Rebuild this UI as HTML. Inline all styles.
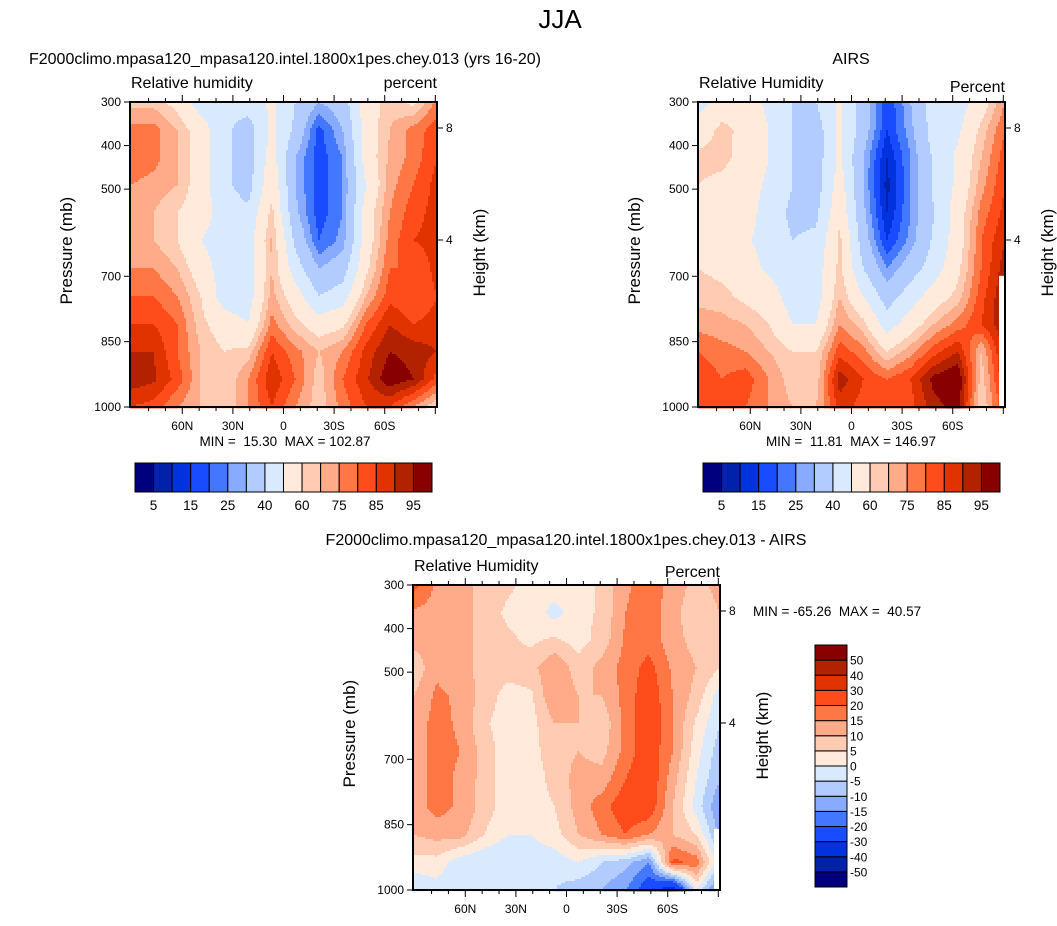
<!DOCTYPE html>
<html><head><meta charset="utf-8">
<style>
body{margin:0;background:#fff;width:1057px;height:921px;overflow:hidden;font-family:"Liberation Sans",Arial,sans-serif;}
svg text{font-family:"Liberation Sans",Arial,sans-serif;fill:#000;}
</style></head>
<body>
<svg id="fig" width="1057" height="921" viewBox="0 0 1057 921" xmlns="http://www.w3.org/2000/svg">
<text x="560" y="28" font-size="26" text-anchor="middle">JJA</text>
</svg>
<script>
// ---- data ----
const latTicks = [60, 30, 0, -30, -60];
const latTickLabels = ["60N", "30N", "0", "30S", "60S"];
const presTicks = [300, 400, 500, 700, 850, 1000];
const heightTicks = [8, 4];
const rhLevels = [5,10,15,20,25,30,40,50,60,65,70,75,80,85,90,95];
const rhLabels = ["5","15","25","40","60","75","85","95"];
const diffLevels = [-50,-40,-30,-20,-15,-10,-5,0,5,10,15,20,30,40,50];
const colors = ["#00007f","#0022aa","#0033dd","#1a4cff","#4477ff","#88aaff","#b3ccff","#d9eaff","#ffeadb","#ffcbb3","#ffaa88","#ff7744","#ff4c1a","#e03300","#b32200","#880000"];
// grids: rows = pressure from 300 (top) to 1000 (bottom); cols = 90N..90S
const modelRH = [
[63,63,57,45,45,45,52,40,30,35,55,63,58,72],
[72,72,65,55,42,35,52,38,18,30,55,65,72,78],
[74,72,65,55,42,35,55,30,17,25,55,66,72,80],
[70,68,65,55,42,36,58,30,17,25,50,68,75,82],
[65,65,60,55,45,42,62,32,17,25,55,70,78,82],
[65,65,60,50,45,45,66,38,20,27,55,72,80,82],
[70,70,65,55,45,45,65,45,30,35,58,75,75,82],
[75,75,70,60,45,45,67,55,40,45,65,78,75,80],
[80,80,75,62,55,50,72,62,55,58,75,85,80,82],
[85,85,75,65,60,62,80,72,65,70,82,90,88,85],
[88,86,78,65,60,70,84,75,62,75,84,94,90,78],
[80,78,70,65,60,70,80,70,62,72,80,80,70,60]];
const airsRH = [
[45,55,55,48,40,40,52,35,15,30,45,45,55,70],
[55,62,58,50,40,35,52,35,15,28,45,48,62,75],
[62,62,57,50,40,35,52,30,10,25,42,52,65,78],
[60,58,55,48,40,35,55,30,8,25,42,52,68,80],
[55,55,55,45,38,38,58,32,10,25,40,55,72,82],
[55,55,52,45,40,42,62,35,15,27,42,55,75,85],
[60,58,55,48,45,45,62,40,25,35,45,58,75,88],
[63,62,58,55,45,45,65,50,35,45,55,62,78,90],
[68,67,65,60,50,50,70,62,45,55,65,72,80,90],
[75,72,70,65,60,60,78,72,60,68,78,85,65,88],
[80,75,78,70,62,62,88,80,75,80,92,96,62,85],
[80,75,75,70,65,65,82,78,75,78,88,92,60,80]];
const diffRH = [
[22,14,12,8,6,3,3,3,6,14,18,13,8,12],
[14,13,12,8,4,3,-2,3,6,15,18,12,6,10],
[12,12,12,8,6,4,6,3,7,16,18,12,8,8],
[6,14,12,8,7,8,15,7,12,17,22,14,10,5],
[10,16,14,8,3,4,15,10,10,17,24,15,8,-3],
[12,17,14,6,2,3,10,10,6,17,25,15,4,-5],
[12,17,15,8,2,3,8,10,8,17,24,15,2,-8],
[12,17,14,8,2,2,7,12,12,20,25,12,0,-10],
[12,17,14,8,2,2,5,12,18,24,24,10,-2,-15],
[10,12,12,5,0,0,3,10,15,20,15,10,5,-12],
[3,3,-3,-5,-5,-3,-3,0,-5,-8,-15,22,18,-5],
[-5,-2,-5,-5,-3,-5,-5,-8,-10,-15,-25,-38,0,-20]];

const NS="http://www.w3.org/2000/svg";
const svg=document.getElementById('fig');
function el(tag,attrs,parent){const e=document.createElementNS(NS,tag);for(const k in attrs)e.setAttribute(k,attrs[k]);(parent||svg).appendChild(e);return e;}
function txt(s,x,y,size,anchor,parent,rot){const t=el('text',{x:x,y:y,'font-size':size,'text-anchor':anchor||'start'},parent);if(rot)t.setAttribute('transform','rotate(-90 '+x+' '+y+')');t.textContent=s;return t;}
function levelIndex(v,levels){let i=0;while(i<levels.length&&v>=levels[i])i++;return Math.min(i,colors.length-1);}

function panel(cfg){
  const g=el('g',{});
  
  
  const X=cfg.x,Y=cfg.y,W=307,H=305;
  const xs=lat=>X+W/2-lat*(W/182);
  const ys=p=>Y+(p-300)/700*H;
  const grid=cfg.grid,nr=grid.length,nc=grid[0].length;
  const field=el('g',{},g);
  
  
  const cs=2;
  for(let py=0;py<H;py+=cs){
    const fy=Math.min((py+cs/2)/H,1)*(nr-1);const r0=Math.min(Math.floor(fy),nr-2);const ty=fy-r0;
    let runStart=0,runCol=-1;
    for(let px=0;px<W;px+=cs){
      const fx=Math.min((px+cs/2)/W,1)*(nc-1);const c0=Math.min(Math.floor(fx),nc-2);const tx=fx-c0;
      const v=(grid[r0][c0]*(1-tx)+grid[r0][c0+1]*tx)*(1-ty)+(grid[r0+1][c0]*(1-tx)+grid[r0+1][c0+1]*tx)*ty;
      const ci=levelIndex(v,cfg.levels);
      if(ci!==runCol){
        if(runCol>=0){el('rect',{x:X+runStart,y:Y+py,width:px-runStart+0.5,height:cs+0.5,fill:colors[runCol]},field);}
        runStart=px;runCol=ci;
      }
    }
    if(runCol>=0){el('rect',{x:X+runStart,y:Y+py,width:W-runStart,height:Math.min(cs+0.5,H-py),fill:colors[runCol]},field);}
  }
  if(cfg.missing){el('rect',{x:X+W-6,y:Y+cfg.missing*H,width:6,height:H-cfg.missing*H,fill:'#fff'},field);}
  const frame=el('rect',{x:X,y:Y,width:W,height:H,fill:'none',stroke:'#000','stroke-width':2},g);
  
  
  for(let lat=80;lat>=-90;lat-=10){
    const x=xs(lat);const major=lat%30===0;
    el('line',{x1:x,y1:Y+H,x2:x,y2:Y+H+(major?7:4),stroke:'#000','stroke-width':1},g);
    el('line',{x1:x,y1:Y,x2:x,y2:Y-(major?7:4),stroke:'#000','stroke-width':1},g);
  }
  latTicks.forEach((lat,i)=>{const t=txt(latTickLabels[i],xs(lat),Y+H+23,12,'middle',g);
    });
  presTicks.forEach(p=>{const y=ys(p);el('line',{x1:X,y1:y,x2:X-6,y2:y,stroke:'#000','stroke-width':1},g);
    const t=txt(String(p),X-9,y+4,12,'end',g);});
  const hy={8:26,4:138};
  heightTicks.forEach(h=>{const y=Y+hy[h];el('line',{x1:X+W,y1:y,x2:X+W+6,y2:y,stroke:'#000','stroke-width':1},g);
    const t=txt(String(h),X+W+9,y+4,12,'start',g);});
  let t=txt('Pressure (mb)',X-58,Y+H/2+50,17,'start',g,true);
  t=txt('Height (km)',X+W+48,Y+H/2+42,17,'start',g,true);
  t=txt(cfg.left,X+1,Y-14,16,'start',g);
  t=txt(cfg.right,X+W,Y-cfg.rdy,16,'end',g);
  t=txt(cfg.title,cfg.tx,cfg.ty,16,'middle',g);
  t=txt(cfg.minmax,cfg.mx,cfg.my,13.5,cfg.manchor,g);
  t.setAttribute('xml:space','preserve');t.style.whiteSpace='pre';
}

panel({name:'model-panel',x:130,y:102,grid:modelRH,levels:rhLevels,left:'Relative humidity',right:'percent',rdy:14,
  title:'F2000climo.mpasa120_mpasa120.intel.1800x1pes.chey.013 (yrs 16-20)',tx:285,ty:64,minmax:'MIN =  15.30  MAX = 102.87',mx:285,my:446,manchor:'middle'});
panel({name:'airs-panel',x:698,y:102,grid:airsRH,levels:rhLevels,left:'Relative Humidity',right:'Percent',rdy:10,missing:0.57,
  title:'AIRS',tx:851,ty:64,minmax:'MIN =  11.81  MAX = 146.97',mx:851,my:446,manchor:'middle'});
panel({name:'difference-panel',x:413,y:585,grid:diffRH,levels:diffLevels,left:'Relative Humidity',right:'Percent',rdy:8,missing:0.8,
  title:'F2000climo.mpasa120_mpasa120.intel.1800x1pes.chey.013 - AIRS',tx:566,ty:545,minmax:'MIN = -65.26  MAX =  40.57',mx:753,my:616,manchor:'start'});

function hbar(x0,name){
  const g=el('g',{});
  const w=297/16;
  colors.forEach((c,i)=>{const r=el('rect',{x:x0+i*w,y:463,width:w,height:29,fill:c,stroke:'#000','stroke-width':1},g);
    });
  rhLabels.forEach((s,i)=>{const t=txt(s,x0+w*(2*i+1),510,13.5,'middle',g);});
}
hbar(135,'model-colorbar');
hbar(703,'airs-colorbar');
(function(){
  const g=el('g',{});
  const h=242/16;
  colors.forEach((c,i)=>{const r=el('rect',{x:815,y:887-(i+1)*h,width:32,height:h,fill:c,stroke:'#000','stroke-width':1},g);
    });
  diffLevels.forEach((v,i)=>{const t=txt(String(v),850,887-(i+1)*h+4.5,12,'start',g);});
})();
</script>
</body></html>
